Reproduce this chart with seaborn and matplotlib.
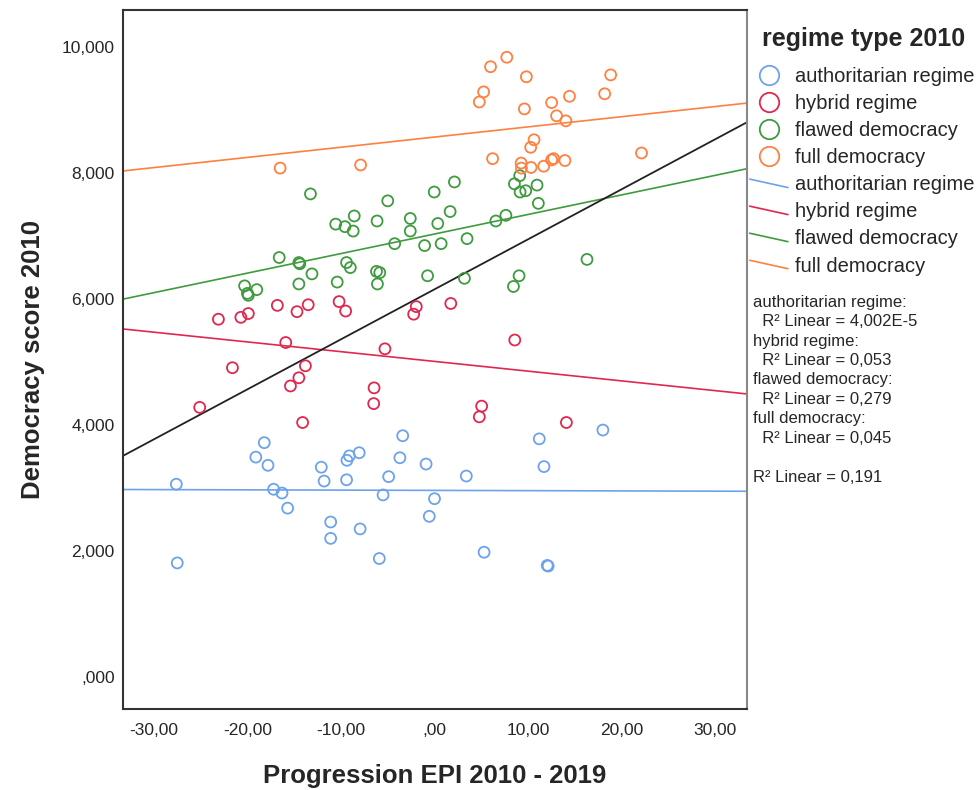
import numpy as np
import pandas as pd
import matplotlib
matplotlib.use("Agg")
import matplotlib.pyplot as plt
from matplotlib.lines import Line2D
from matplotlib.legend_handler import HandlerLine2D
import seaborn as sns

# regime groups and their colours
regimes = ["authoritarian regime", "hybrid regime", "flawed democracy", "full democracy"]
colors = ["#6CA3EA", "#E0284F", "#3F9B3F", "#FF8040"]

# Progression EPI 2010 - 2019 (x) and Democracy score 2010 (y)
auth_x = [-27.6, -27.5, -18.2, -19.1, -17.8, -17.2, -16.3, -15.7, -12.1, -11.8, -11.1,
          -11.1, -9.4, -9.36, -9.1, -8.05, -7.95, -5.9, -5.5, -4.9, -3.7, -3.4, -0.9,
          0.0, -0.56, 3.4, 5.3, 11.2, 11.7, 12.05, 12.15, 18.0]
auth_y = [3.06, 1.81, 3.72, 3.49, 3.36, 2.98, 2.92, 2.68, 3.33, 3.11, 2.46,
          2.20, 3.13, 3.44, 3.51, 3.56, 2.35, 1.88, 2.89, 3.18, 3.48, 3.83, 3.38,
          2.83, 2.55, 3.19, 1.98, 3.78, 3.34, 1.77, 1.76, 3.92]

hyb_x = [-23.1, -20.7, -19.9, -16.8, -14.7, -13.5, -10.2, -9.5, -1.95, -2.23, -15.9,
         -5.3, -21.6, -13.8, -14.5, -15.4, -6.46, -6.5, -25.1, -14.1, 1.74, 8.58,
         5.04, 4.79, 14.1]
hyb_y = [5.68, 5.71, 5.77, 5.90, 5.80, 5.91, 5.96, 5.81, 5.88, 5.76, 5.31,
         5.21, 4.91, 4.94, 4.75, 4.62, 4.59, 4.34, 4.28, 4.04, 5.93, 5.35,
         4.30, 4.13, 4.04]

flaw_x = [-13.26, -5.0, -0.03, -8.58, -10.56, -9.57, -8.69, -6.14, -2.59, -2.59, 0.35,
          -4.26, -1.06, 0.71, 2.13, 1.67, 3.48, -0.74, 3.2, 9.04, 8.44, 16.3,
          6.56, 7.63, 11.1, 8.54, 9.15, 9.75, 10.96, 9.11, -16.6, -14.5, -14.4,
          -9.4, -9.0, -13.1, -6.2, -5.85, -20.3, -19.0, -20.0, -19.9, -14.5,
          -10.4, -6.1]
flaw_y = [7.67, 7.56, 7.70, 7.32, 7.19, 7.15, 7.08, 7.24, 7.28, 7.08, 7.20,
          6.88, 6.85, 6.88, 7.86, 7.39, 6.96, 6.37, 6.33, 6.37, 6.20, 6.63,
          7.24, 7.33, 7.52, 7.83, 7.70, 7.72, 7.81, 7.96, 6.66, 6.58, 6.56,
          6.58, 6.50, 6.40, 6.44, 6.42, 6.21, 6.15, 6.09, 6.06, 6.24,
          6.27, 6.24]

full_x = [7.73, 5.99, 9.82, 18.83, 5.25, 4.79, 14.43, 18.19, 12.52, 9.61, 13.05,
          14.04, 10.64, 10.28, 6.21, 9.26, 9.29, 10.32, 11.67, 12.52, 12.73, 13.94,
          22.13, -16.5, -7.9]
full_y = [9.84, 9.69, 9.53, 9.56, 9.29, 9.13, 9.22, 9.26, 9.12, 9.02, 8.91,
          8.83, 8.53, 8.41, 8.23, 8.16, 8.08, 8.09, 8.11, 8.21, 8.23, 8.20,
          8.32, 8.08, 8.13]

r2_text = ("authoritarian regime:\n  R\u00b2 Linear = 4,002E-5\n"
           "hybrid regime:\n  R\u00b2 Linear = 0,053\n"
           "flawed democracy:\n  R\u00b2 Linear = 0,279\n"
           "full democracy:\n  R\u00b2 Linear = 0,045\n\n"
           "R\u00b2 Linear = 0,191")

df = pd.concat([
    pd.DataFrame({"epi": auth_x, "dem": auth_y, "regime": regimes[0]}),
    pd.DataFrame({"epi": hyb_x, "dem": hyb_y, "regime": regimes[1]}),
    pd.DataFrame({"epi": flaw_x, "dem": flaw_y, "regime": regimes[2]}),
    pd.DataFrame({"epi": full_x, "dem": full_y, "regime": regimes[3]}),
], ignore_index=True)


class SlantedLine(HandlerLine2D):
    """Legend handle drawn as a short slanted line, like SPSS does."""
    def create_artists(self, legend, orig_handle, xdescent, ydescent,
                       width, height, fontsize, trans):
        ln = Line2D([-xdescent, -xdescent + width],
                    [-ydescent + height * 0.8, -ydescent + height * 0.2])
        self.update_prop(ln, orig_handle, legend)
        ln.set_transform(trans)
        return [ln]


sns.set_style("white")
plt.rcParams["font.family"] = ["Liberation Sans", "DejaVu Sans"]

fig = plt.figure(figsize=(9.8, 7.9), dpi=100)
ax = fig.add_axes([0.1255, 0.1025, 0.6367, 0.8848])
ax.set_xlim(-33.3, 33.4)
ax.set_ylim(-0.51, 10.59)

# fit lines first, so they span the whole x range
for name, col in zip(regimes, colors):
    sub = df[df["regime"] == name]
    sns.regplot(data=sub, x="epi", y="dem", ax=ax, ci=None, truncate=False,
                scatter=False, line_kws={"color": col, "lw": 1.2})
sns.regplot(data=df, x="epi", y="dem", ax=ax, ci=None, truncate=False,
            scatter=False, line_kws={"color": "#222222", "lw": 1.3})

for name, col in zip(regimes, colors):
    sub = df[df["regime"] == name]
    ax.scatter(sub["epi"], sub["dem"], s=62, facecolors="none",
               edgecolors=col, linewidths=1.3, zorder=3)

ax.set_xlim(-33.3, 33.4)
ax.set_ylim(-0.51, 10.59)

xt = np.arange(-30, 31, 10)
yt = np.arange(0, 11, 2)
ax.set_xticks(xt)
ax.set_yticks(yt)
ax.set_xticklabels([f"{v:.2f}".replace(".", ",") if v != 0 else ",00" for v in xt])
ax.set_yticklabels([f"{v:.3f}".replace(".", ",") if v != 0 else ",000" for v in yt])
ax.tick_params(axis="x", length=0, labelsize=12.5, pad=10)
ax.tick_params(axis="y", length=0, labelsize=12.5, pad=6)

ax.set_xlabel("Progression EPI 2010 - 2019", fontsize=18.5, fontweight="bold", labelpad=19)
ax.set_ylabel("Democracy score 2010", fontsize=18.5, fontweight="bold", labelpad=12)

for side in ["left", "bottom", "top"]:
    ax.spines[side].set_color("#333333")
    ax.spines[side].set_linewidth(1.5)
ax.spines["right"].set_color("#888888")
ax.spines["right"].set_linewidth(1.5)

# legend: title as separate text, then markers and fit lines
fig.text(0.7776, 0.9505, "regime type 2010", fontsize=18, fontweight="bold",
         va="center", ha="left")

handles = [Line2D([], [], marker="o", ls="none", markersize=14, markerfacecolor="none",
                  markeredgecolor=c, markeredgewidth=1.3) for c in colors]
handles += [Line2D([], [], color=c, lw=1.2) for c in colors]
labels = regimes + regimes
leg = fig.legend(handles, labels, loc="upper left", bbox_to_anchor=(0.765, 0.915),
                 frameon=False, fontsize=14.5,
                 handlelength=1.9, handletextpad=0.35, labelspacing=0.40,
                 borderaxespad=0, borderpad=0.0,
                 handler_map={h: SlantedLine() for h in handles[4:]})

fig.text(0.768, 0.627, r2_text, fontsize=12, va="top", ha="left", linespacing=1.37)

fig.savefig("out.png", dpi=100)
